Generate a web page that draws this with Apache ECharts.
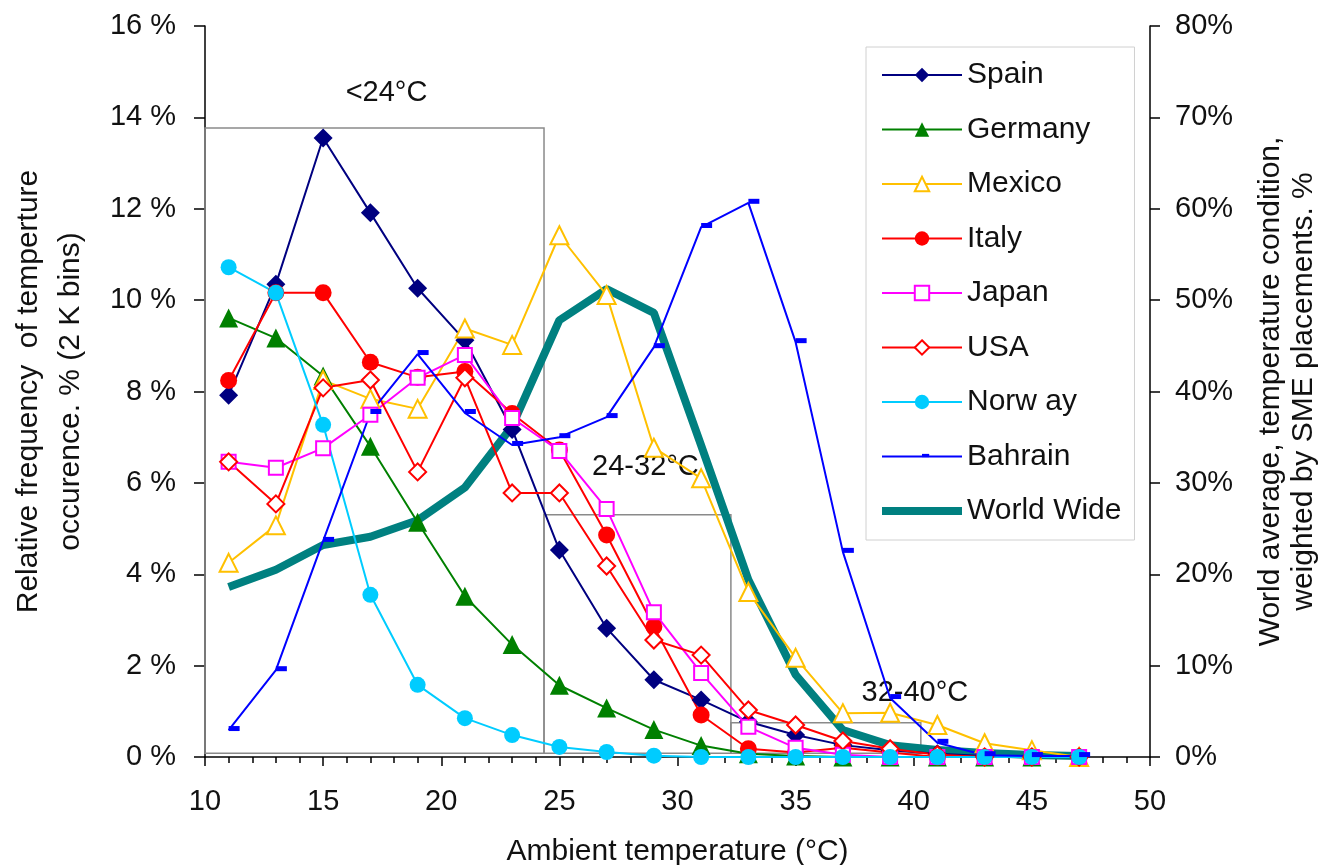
<!DOCTYPE html>
<html><head><meta charset="utf-8">
<script src="https://cdn.jsdelivr.net/npm/echarts/dist/echarts.min.js"></script>
<style>html,body{margin:0;padding:0;background:#fff}#c{width:1325px;height:865px}</style>
</head><body><div id="c"></div>
<script>
// ---- data ----
const temps = [11,13,15,17,19,21,23,25,27,29,31,33,35,37,39,41,43,45,47];
const spain   = [7.92,10.35,13.55,11.91,10.26,9.12,7.17,4.53,2.82,1.69,1.25,0.77,0.48,0.26,0.15,0.07,0.02,0,0];
const germany = [9.61,9.17,8.34,6.80,5.14,3.52,2.46,1.57,1.07,0.60,0.25,0.07,0.02,0,0,0,0,0,0];
const mexico  = [4.25,5.07,8.25,7.84,7.62,9.38,9.02,11.42,10.11,6.77,6.10,3.61,2.17,0.96,0.97,0.70,0.30,0.15,0];
const italy   = [8.24,10.16,10.16,8.64,8.31,8.44,7.52,6.72,4.86,2.85,0.92,0.18,0.10,0.20,0.10,0,0,0,0];
const japan   = [6.46,6.33,6.76,7.49,8.30,8.80,7.42,6.70,5.43,3.17,1.84,0.66,0.20,0.05,0,0,0,0,0];
const usa     = [6.46,5.54,8.08,8.25,6.24,8.30,5.78,5.78,4.18,2.56,2.23,1.03,0.70,0.35,0.18,0.05,0,0,0];
const norway  = [10.72,10.16,7.27,3.55,1.58,0.85,0.48,0.22,0.11,0.03,0,0,0,0,0,0,0,0,0];
const bahrain = [0.59,1.90,4.73,7.53,8.82,7.53,6.83,7.00,7.44,8.97,11.60,12.13,9.08,4.49,1.29,0.31,0.04,0.02,0.02];
const worldWide = [18.6,20.5,23.2,24.1,25.9,29.5,36.2,47.8,51.2,48.6,34.1,19.4,9.0,2.95,1.3,0.77,0.44,0.22,0.1]; // right axis, %

const seriesNames = ['Spain','Germany','Mexico','Italy','Japan','USA','Norw ay','Bahrain','World Wide'];
const leftTicks = [0,2,4,6,8,10,12,14,16];
const rightTicks = [0,10,20,30,40,50,60,70,80];
const xTicks = [10,15,20,25,30,35,40,45,50];

const bandLabels = ['<24°C','24-32°C','32-40°C'];
const bandX = [[10,24.35],[24.35,32.26],[32.26,40.3]];
const bandTop = [13.77,5.30,0.75];
const bandBottom = 0.08;

// ---- chart ----
const FONT = '"Liberation Sans", Arial, sans-serif';
const pts = arr => temps.map((t,i)=>[t,arr[i]]);
const bandOffsets = [[12,-15],[8,-28],[89,-9]];

function countrySeries(name, data, color, symbol, size, hollow, extra){
  return Object.assign({
    name, type:'line', data: pts(data), yAxisIndex:0,
    color,
    symbol, symbolSize: size, showAllSymbol:true,
    lineStyle:{color, width:2},
    itemStyle: hollow ? {color:'#fff', borderColor:color, borderWidth:2} : {color, borderWidth:0},
    emphasis:{disabled:true}, silent:true
  }, extra||{});
}

const chart = echarts.init(document.getElementById('c'), null, {renderer:'canvas'});
const bahrainSym = 'path://M-11,-11M11,11M0,-4h11v5h-11z';

const option = {
  animation:false,
  textStyle:{fontFamily:FONT},
  grid:{left:205, right:175, top:26, bottom:108, containLabel:false, outerBoundsMode:'none'},
  legend:{
    orient:'vertical', left:866, top:47,
    data: seriesNames.map(n => n === 'World Wide' ? {name:n, itemStyle:{opacity:0}} : {name:n}),
    padding:[13,13,14,12],
    itemWidth:80, itemHeight:18, itemGap:24.5,
    borderColor:'#d0d0d0', borderWidth:1,
    lineStyle:{width:'inherit'},
    textStyle:{fontFamily:FONT, fontSize:30, color:'#111', lineHeight:30},
    selectedMode:false
  },
  xAxis:{
    type:'value', min:10, max:50, interval:5,
    name:'Ambient temperature (°C)', nameLocation:'middle', nameGap:80,
    nameTextStyle:{fontFamily:FONT, fontSize:30, color:'#111'},
    axisLine:{show:true, onZero:false, lineStyle:{color:'#000', width:1.5}},
    axisTick:{show:true, length:9, lineStyle:{color:'#000', width:1.5}},
    minorTick:{show:true, splitNumber:5, length:6, lineStyle:{color:'#000', width:1.5}},
    splitLine:{show:false},
    axisLabel:{fontFamily:FONT, fontSize:29, color:'#111', margin:30,
      formatter: v => xTicks.includes(v) ? String(v) : ''}
  },
  yAxis:[{
    type:'value', min:0, max:16, interval:2, position:'left',
    name:'Relative frequency  of temperture\noccurence. % (2 K bins)',
    nameLocation:'middle', nameRotate:90, nameGap:113,
    nameTextStyle:{fontFamily:FONT, fontSize:30, color:'#111', lineHeight:42},
    axisLine:{show:true, lineStyle:{color:'#000', width:1.5}},
    axisTick:{show:true, length:11, lineStyle:{color:'#000', width:1.5}},
    splitLine:{show:false},
    axisLabel:{fontFamily:FONT, fontSize:29, color:'#111', margin:29,
      formatter: v => leftTicks.includes(v) ? v + ' %' : ''}
  },{
    type:'value', min:0, max:80, interval:10, position:'right',
    name:'World average, temperature condition,\nweighted by SME placements. %',
    nameLocation:'middle', nameRotate:90, nameGap:104,
    nameTextStyle:{fontFamily:FONT, fontSize:30, color:'#111', lineHeight:33},
    axisLine:{show:true, lineStyle:{color:'#000', width:1.5}},
    axisTick:{show:true, length:10, lineStyle:{color:'#000', width:1.5}},
    splitLine:{show:false},
    axisLabel:{fontFamily:FONT, fontSize:29, color:'#111', margin:25,
      formatter: v => rightTicks.includes(v) ? v + '%' : ''}
  }],
  series:[
    {
      name:'World Wide', type:'line', data: pts(worldWide), yAxisIndex:1,
      color:'#008080', symbol:'none', lineStyle:{color:'#008080', width:8},
      emphasis:{disabled:true}, silent:true, z:1
    },
    countrySeries('Spain', spain, '#000080', 'diamond', 19, false, {
      markArea:{
        silent:true,
        itemStyle:{color:'rgba(0,0,0,0)', borderColor:'#8a8a8a', borderWidth:1.5},
        label:{show:true, position:'top', fontFamily:FONT, fontSize:29, color:'#111'},
        data: bandLabels.map((lab,i)=>[
          {name:lab, xAxis:bandX[i][0], yAxis:bandTop[i], label:{offset:bandOffsets[i]}},
          {xAxis:bandX[i][1], yAxis:bandBottom}
        ])
      }
    }),
    countrySeries('Germany', germany, '#008000', 'triangle', 19, false),
    countrySeries('Mexico', mexico, '#FFC000', 'triangle', 18, true),
    countrySeries('Italy', italy, '#FF0000', 'circle', 17, false),
    countrySeries('Japan', japan, '#FF00FF', 'rect', 14, true),
    countrySeries('USA', usa, '#FF0000', 'diamond', 17, true),
    countrySeries('Norw ay', norway, '#00CCFF', 'circle', 16, false),
    countrySeries('Bahrain', bahrain, '#0000FF', bahrainSym, 22, false)
  ]
};
chart.setOption(option);
</script>
</body></html>
